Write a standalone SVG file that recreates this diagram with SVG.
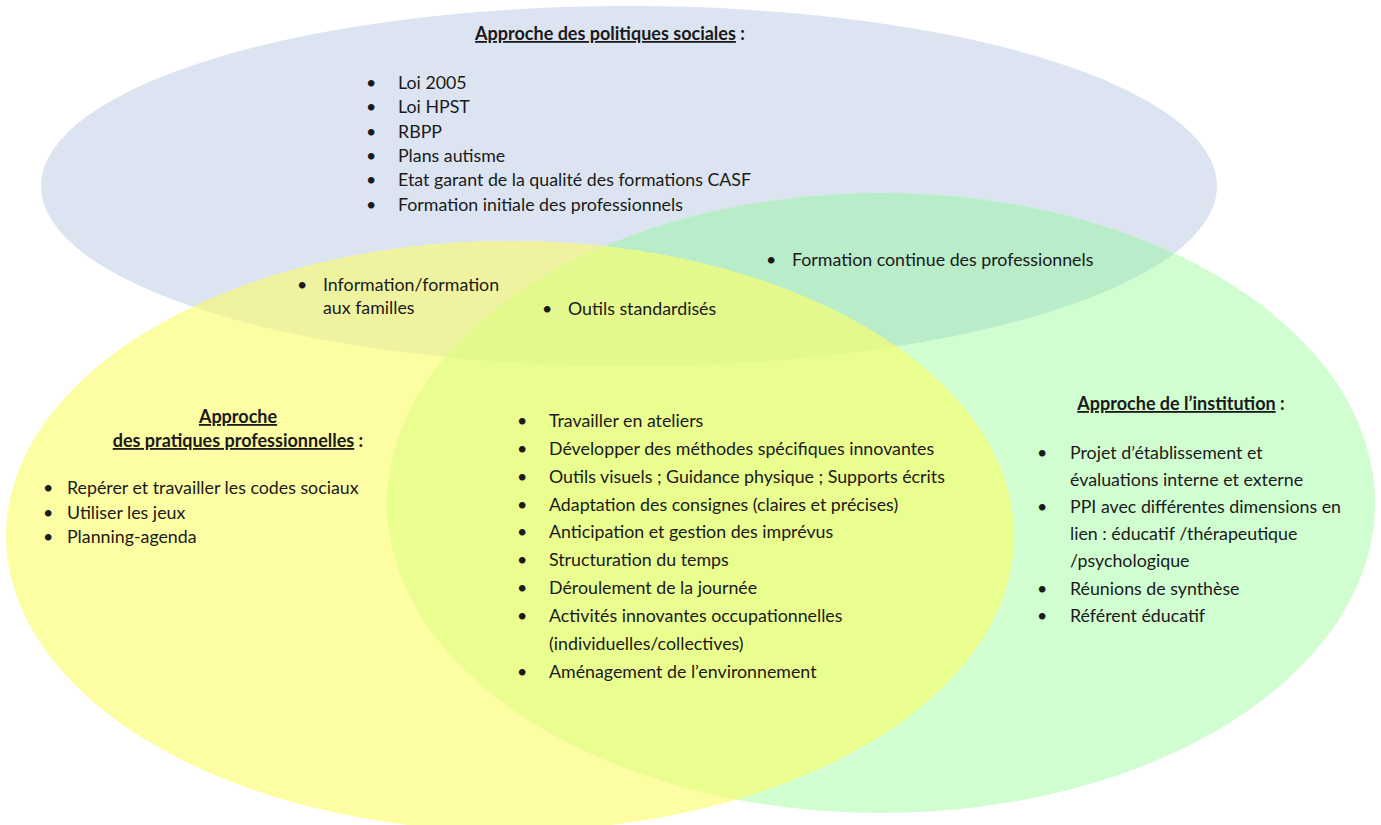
<svg xmlns="http://www.w3.org/2000/svg" width="1381" height="825" viewBox="0 0 1381 825">
<style>
text{font-family:Lato,"Liberation Sans",sans-serif;font-size:17.8px;fill:#1a1a1a}
.t{font-weight:bold;text-decoration:underline}
.c{font-weight:bold}
.m{text-anchor:middle;font-size:18px}
</style>
<defs>
<clipPath id="cB"><ellipse cx="629" cy="186" rx="588" ry="180"/></clipPath>
<clipPath id="cG"><ellipse cx="881" cy="503" rx="494" ry="310"/></clipPath>
</defs>
<rect width="1381" height="825" fill="#ffffff"/>
<g id="shapes">
<ellipse id="blue" cx="629" cy="186" rx="588" ry="180" fill="#dbe4f0"/>
<ellipse id="green" cx="881" cy="503" rx="494" ry="310" fill="#d0fed0"/>
<ellipse id="yellow" cx="510" cy="536" rx="504" ry="295" fill="#fdfda3"/>
<ellipse cx="881" cy="503" rx="494" ry="310" fill="#b9ecc8" clip-path="url(#cB)"/>
<ellipse cx="510" cy="536" rx="504" ry="295" fill="#eff3a0" clip-path="url(#cB)"/>
<ellipse cx="510" cy="536" rx="504" ry="295" fill="#eafd8f" clip-path="url(#cG)"/>
<g clip-path="url(#cB)"><ellipse cx="510" cy="536" rx="504" ry="295" fill="#e3f88d" clip-path="url(#cG)"/></g>
</g>
<g id="politiques">
<text class="m" x="610" y="40"><tspan class="t">Approche des politiques sociales</tspan><tspan class="c"> :</tspan></text>
<text x="366" y="89">•</text><text x="398" y="89">Loi 2005</text>
<text x="366" y="113">•</text><text x="398" y="113">Loi HPST</text>
<text x="366" y="138">•</text><text x="398" y="138">RBPP</text>
<text x="366" y="162">•</text><text x="398" y="162">Plans autisme</text>
<text x="366" y="186">•</text><text x="398" y="186">Etat garant de la qualité des formations CASF</text>
<text x="366" y="211">•</text><text x="398" y="211">Formation initiale des professionnels</text>
</g>
<g id="familles">
<text x="297" y="291">•</text><text x="323" y="291">Information/formation</text>
<text x="323" y="314">aux familles</text>
</g>
<g id="outils">
<text x="542" y="315">•</text><text x="568" y="315">Outils standardisés</text>
</g>
<g id="continue">
<text x="766" y="266">•</text><text x="792" y="266">Formation continue des professionnels</text>
</g>
<g id="pratiques">
<text class="m t" x="238" y="423">Approche</text>
<text class="m" x="238" y="447"><tspan class="t">des pratiques professionnelles</tspan><tspan class="c"> :</tspan></text>
<text x="43" y="494">•</text><text x="67" y="494">Repérer et travailler les codes sociaux</text>
<text x="43" y="519">•</text><text x="67" y="519">Utiliser les jeux</text>
<text x="43" y="543">•</text><text x="67" y="543">Planning-agenda</text>
</g>
<g id="commun">
<text x="517" y="427">•</text><text x="549" y="427">Travailler en ateliers</text>
<text x="517" y="455">•</text><text x="549" y="455">Développer des méthodes spécifiques innovantes</text>
<text x="517" y="483">•</text><text x="549" y="483">Outils visuels ; Guidance physique ; Supports écrits</text>
<text x="517" y="511">•</text><text x="549" y="511">Adaptation des consignes (claires et précises)</text>
<text x="517" y="538">•</text><text x="549" y="538">Anticipation et gestion des imprévus</text>
<text x="517" y="566">•</text><text x="549" y="566">Structuration du temps</text>
<text x="517" y="594">•</text><text x="549" y="594">Déroulement de la journée</text>
<text x="517" y="622">•</text><text x="549" y="622">Activités innovantes occupationnelles</text>
<text x="549" y="650">(individuelles/collectives)</text>
<text x="517" y="678">•</text><text x="549" y="678">Aménagement de l’environnement</text>
</g>
<g id="institution">
<text class="m" x="1181" y="410"><tspan class="t">Approche de l’institution</tspan><tspan class="c"> :</tspan></text>
<text x="1037" y="459">•</text><text x="1070" y="459">Projet d’établissement et</text>
<text x="1070" y="486">évaluations interne et externe</text>
<text x="1037" y="513">•</text><text x="1070" y="513">PPI avec différentes dimensions en</text>
<text x="1070" y="540">lien : éducatif /thérapeutique</text>
<text x="1070" y="567">/psychologique</text>
<text x="1037" y="595">•</text><text x="1070" y="595">Réunions de synthèse</text>
<text x="1037" y="622">•</text><text x="1070" y="622">Référent éducatif</text>
</g>
<g id="connectors"/>
</svg>
